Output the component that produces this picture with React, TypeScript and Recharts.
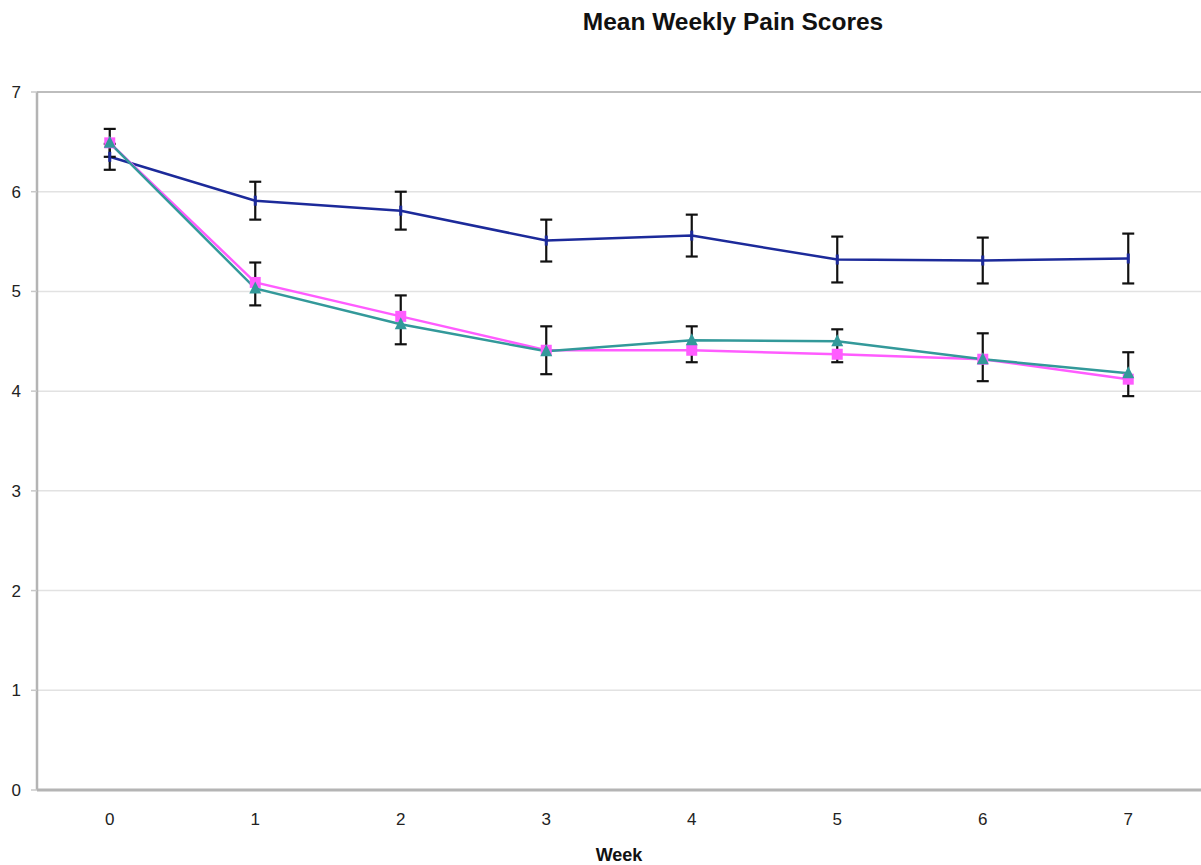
import { CartesianGrid, ErrorBar, Line, LineChart, ReferenceLine, XAxis, YAxis } from "recharts"

const weeks = [0, 1, 2, 3, 4, 5, 6, 7]
const groupAMean = [6.35, 5.91, 5.81, 5.51, 5.56, 5.32, 5.31, 5.33]
const groupAErr = [0.13, 0.19, 0.19, 0.21, 0.21, 0.23, 0.23, 0.25]
const groupBMean = [6.49, 5.09, 4.75, 4.41, 4.41, 4.37, 4.32, 4.12]
const groupCMean = [6.49, 5.03, 4.67, 4.4, 4.51, 4.5, 4.32, 4.18]
// one shared bar for the two lower groups, [below, above] the group B mean
const lowerErrBelow = [0.14, 0.23, 0.28, 0.24, 0.12, 0.08, 0.22, 0.17]
const lowerErrAbove = [0.14, 0.2, 0.21, 0.24, 0.24, 0.25, 0.26, 0.27]
const yTicks = [0, 1, 2, 3, 4, 5, 6, 7]
const bandEdges = [-0.5, 0.5, 1.5, 2.5, 3.5, 4.5, 5.5, 6.5, 7.5]

const data = weeks.map((week, i) => ({
    week,
    a: groupAMean[i],
    aErr: groupAErr[i],
    b: groupBMean[i],
    bErr: [lowerErrBelow[i], lowerErrAbove[i]],
    c: groupCMean[i],
}))

const FONT = "'Liberation Sans', Arial, Helvetica, sans-serif"
const BLUE = "#1c2a9a"
const PINK = "#ff5cff"
const TEAL = "#33999a"

function DashDot(props: any) {
    const { cx, cy } = props
    if (cx == null || cy == null) return null
    return <rect x={cx - 1.5} y={cy - 5} width={3} height={10} fill={BLUE} />
}

function SquareDot(props: any) {
    const { cx, cy } = props
    if (cx == null || cy == null) return null
    return <rect x={cx - 5.5} y={cy - 5.5} width={11} height={11} fill={PINK} />
}

function TriangleDot(props: any) {
    const { cx, cy } = props
    if (cx == null || cy == null) return null
    return <polygon points={`${cx},${cy - 7} ${cx + 6},${cy + 5} ${cx - 6},${cy + 5}`} fill={TEAL} />
}

export default function App() {
    return (
        <div style={{ position: "absolute", left: 0, top: 0, width: 1201, height: 865, background: "#fff", fontFamily: FONT }}>
            <div style={{
                position: "absolute", left: 733, top: 8, transform: "translateX(-50%)",
                fontSize: 24.5, fontWeight: "bold", lineHeight: "28px", whiteSpace: "nowrap", color: "#111"
            }}>
                Mean Weekly Pain Scores
            </div>
            <LineChart width={1201} height={865} data={data} margin={{ top: 92, right: 0, left: 0, bottom: 0 }}>
                <CartesianGrid vertical={false} stroke="#e2e2e2" strokeWidth={1.5} />
                <XAxis
                    xAxisId="marks"
                    type="number"
                    dataKey="week"
                    domain={[-0.5, 7.5]}
                    ticks={bandEdges}
                    height={0}
                    tick={false}
                    tickSize={5}
                    tickLine={{ stroke: "#c8c8c8", strokeWidth: 1.5 }}
                    axisLine={false}
                />
                <XAxis
                    type="number"
                    dataKey="week"
                    domain={[-0.5, 7.5]}
                    ticks={weeks}
                    height={75}
                    tickLine={false}
                    tickSize={5}
                    tickMargin={18}
                    axisLine={{ stroke: "#b4b4b4", strokeWidth: 3 }}
                    tick={{ fill: "#222", fontSize: 17, fontFamily: FONT }}
                    label={{ value: "Week", position: "insideBottom", offset: 4, fill: "#111", fontSize: 18, fontWeight: "bold", fontFamily: FONT }}
                />
                <YAxis
                    type="number"
                    domain={[0, 7]}
                    ticks={yTicks}
                    width={37}
                    tickSize={6}
                    tickMargin={10}
                    tickLine={{ stroke: "#c8c8c8", strokeWidth: 1.5 }}
                    axisLine={{ stroke: "#b4b4b4", strokeWidth: 2.5 }}
                    tick={{ fill: "#222", fontSize: 17, fontFamily: FONT }}
                />
                <ReferenceLine y={7} stroke="#bdbdbd" strokeWidth={2} />
                <Line dataKey="a" name="Group A" stroke={BLUE} strokeWidth={2.5} dot={<DashDot />} isAnimationActive={false}>
                    <ErrorBar dataKey="aErr" direction="y" width={6} stroke="#111" strokeWidth={2.2} />
                </Line>
                <Line dataKey="b" name="Group B" stroke={PINK} strokeWidth={2.5} dot={<SquareDot />} isAnimationActive={false}>
                    <ErrorBar dataKey="bErr" direction="y" width={6} stroke="#111" strokeWidth={2.2} />
                </Line>
                <Line dataKey="c" name="Group C" stroke={TEAL} strokeWidth={2.5} dot={<TriangleDot />} isAnimationActive={false} />
            </LineChart>
        </div>
    )
}
